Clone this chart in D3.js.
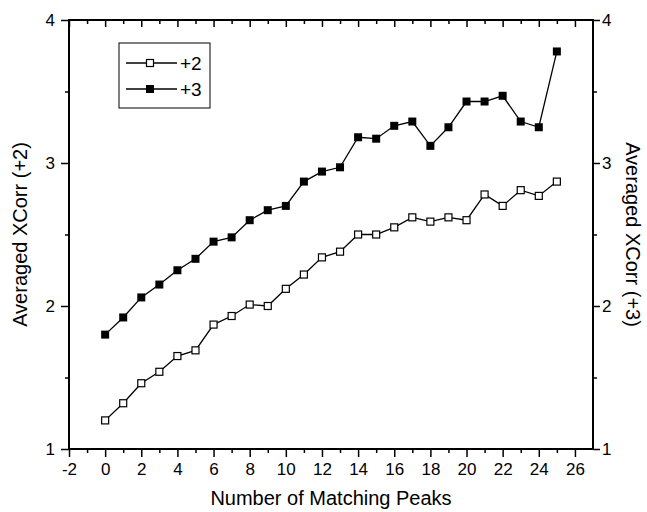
<!DOCTYPE html>
<html>
<head>
<meta charset="utf-8">
<script src="https://cdn.jsdelivr.net/npm/d3@7"></script>
<style>
  body { margin: 0; background: #fff; }
  text { font-family: Arial, "Liberation Sans", sans-serif; fill: #000; }
</style>
</head>
<body>
<div id="chart"></div>
<script>
// number of matching peaks
var peaks = [0, 1, 2, 3, 4, 5, 6, 7, 8, 9, 10, 11, 12, 13, 14, 15, 16, 17, 18, 19, 20, 21, 22, 23, 24, 25];
// averaged xcorr, charge +2 (open squares, left axis)
var plus2 = [1.20, 1.32, 1.46, 1.54, 1.65, 1.69, 1.87, 1.93, 2.01, 2.00, 2.12, 2.22, 2.34,
    2.38, 2.50, 2.50, 2.55, 2.62, 2.59, 2.62, 2.60, 2.78, 2.70, 2.81, 2.77, 2.87];
// averaged xcorr, charge +3 (filled squares, right axis)
var plus3 = [1.80, 1.92, 2.06, 2.15, 2.25, 2.33, 2.45, 2.48, 2.60, 2.67, 2.70, 2.87, 2.94,
    2.97, 3.18, 3.17, 3.26, 3.29, 3.12, 3.25, 3.43, 3.43, 3.47, 3.29, 3.25, 3.78];

var xTicks = [-2, 0, 2, 4, 6, 8, 10, 12, 14, 16, 18, 20, 22, 24, 26];
var xMinor = [-1, 1, 3, 5, 7, 9, 11, 13, 15, 17, 19, 21, 23, 25];
var yTicks = [1, 2, 3, 4];
var yMinor = [1.5, 2.5, 3.5];

var seriesNames = ["+2", "+3"];

// plain hyphen for negative labels, like the original
var fmt = function (d) { return String(d); };

// set the dimensions and margins of the graph
var margin = {
        top: 20,
        right: 54,
        bottom: 63,
        left: 69
    },
    width = 647 - margin.left - margin.right,
    height = 512 - margin.top - margin.bottom;

var svg = d3.select("#chart")
    .append("svg")
    .attr("width", 647)
    .attr("height", 512)
    .append("g")
    .attr("transform", "translate(" + margin.left + "," + margin.top + ")");

var x = d3.scaleLinear().domain([-2, 27]).range([0, width]);
var yL = d3.scaleLinear().domain([1, 4]).range([height, 0]);
var yR = d3.scaleLinear().domain([1, 4]).range([height, 0]);

// bottom axis
svg.append("g")
    .attr("transform", "translate(0," + height + ")")
    .call(d3.axisBottom(x).tickValues(xTicks).tickSize(8).tickPadding(6).tickFormat(fmt));
svg.append("g")
    .attr("transform", "translate(0," + height + ")")
    .call(d3.axisBottom(x).tickValues(xMinor).tickSize(4).tickFormat(""));

// top axis, ticks inward
svg.append("g")
    .call(d3.axisBottom(x).tickValues(xTicks).tickSize(7).tickFormat(""));
svg.append("g")
    .call(d3.axisBottom(x).tickValues(xMinor).tickSize(4).tickFormat(""));

// left axis
svg.append("g")
    .call(d3.axisLeft(yL).tickValues(yTicks).tickSize(8).tickPadding(6).tickFormat(fmt));
svg.append("g")
    .call(d3.axisLeft(yL).tickValues(yMinor).tickSize(4).tickFormat(""));

// right axis
svg.append("g")
    .attr("transform", "translate(" + width + ",0)")
    .call(d3.axisRight(yR).tickValues(yTicks).tickSize(7).tickPadding(2).tickFormat(fmt));
svg.append("g")
    .attr("transform", "translate(" + width + ",0)")
    .call(d3.axisRight(yR).tickValues(yMinor).tickSize(4).tickFormat(""));

svg.selectAll(".domain").remove();
svg.selectAll(".tick line").attr("stroke", "#000").attr("stroke-width", 1.5);
svg.selectAll(".tick text").attr("font-size", 17).attr("fill", "#000");

// frame
svg.append("rect")
    .attr("width", width)
    .attr("height", height)
    .attr("fill", "none")
    .attr("stroke", "#000")
    .attr("stroke-width", 2);

// axis titles
svg.append("text")
    .attr("x", width / 2)
    .attr("y", height + 56)
    .attr("text-anchor", "middle")
    .attr("font-size", 20)
    .text("Number of Matching Peaks");

svg.append("text")
    .attr("transform", "translate(" + (-42) + "," + (height / 2) + ") rotate(-90)")
    .attr("text-anchor", "middle")
    .attr("font-size", 20)
    .text("Averaged XCorr (+2)");

svg.append("text")
    .attr("transform", "translate(" + (width + 33) + "," + (height / 2) + ") rotate(90)")
    .attr("text-anchor", "middle")
    .attr("font-size", 20)
    .text("Averaged XCorr (+3)");

// lines
var lineL = d3.line()
    .x(function (d, i) { return x(peaks[i]); })
    .y(function (d) { return yL(d); });
var lineR = d3.line()
    .x(function (d, i) { return x(peaks[i]); })
    .y(function (d) { return yR(d); });

svg.append("path")
    .datum(plus3)
    .attr("d", lineR)
    .attr("fill", "none")
    .attr("stroke", "#000")
    .attr("stroke-width", 1.3);

svg.append("path")
    .datum(plus2)
    .attr("d", lineL)
    .attr("fill", "none")
    .attr("stroke", "#000")
    .attr("stroke-width", 1.3);

var size = 8;

svg.selectAll(".p3")
    .data(plus3)
    .enter()
    .append("rect")
    .attr("class", "p3")
    .attr("x", function (d, i) { return x(peaks[i]) - size / 2; })
    .attr("y", function (d) { return yR(d) - size / 2; })
    .attr("width", size)
    .attr("height", size)
    .attr("fill", "#000");

svg.selectAll(".p2")
    .data(plus2)
    .enter()
    .append("rect")
    .attr("class", "p2")
    .attr("x", function (d, i) { return x(peaks[i]) - (size - 1) / 2; })
    .attr("y", function (d) { return yL(d) - (size - 1) / 2; })
    .attr("width", size - 1)
    .attr("height", size - 1)
    .attr("fill", "#fff")
    .attr("stroke", "#000")
    .attr("stroke-width", 1.2);

// legend
var legend = svg.append("g").attr("transform", "translate(50,23)");
legend.append("rect")
    .attr("width", 91)
    .attr("height", 65)
    .attr("fill", "#fff")
    .attr("stroke", "#000")
    .attr("stroke-width", 1);

seriesNames.forEach(function (name, i) {
    var ly = 20 + i * 26;
    legend.append("line")
        .attr("x1", 7).attr("x2", 58)
        .attr("y1", ly).attr("y2", ly)
        .attr("stroke", "#000")
        .attr("stroke-width", 1.3);
    if (i === 0) {
        legend.append("rect")
            .attr("x", 31 - (size - 1) / 2).attr("y", ly - (size - 1) / 2)
            .attr("width", size - 1).attr("height", size - 1)
            .attr("fill", "#fff").attr("stroke", "#000").attr("stroke-width", 1.2);
    } else {
        legend.append("rect")
            .attr("x", 31 - size / 2).attr("y", ly - size / 2)
            .attr("width", size).attr("height", size)
            .attr("fill", "#000");
    }
    legend.append("text")
        .attr("x", 61)
        .attr("y", ly + 7)
        .attr("font-size", 19)
        .text(name);
});
</script>
</body>
</html>
